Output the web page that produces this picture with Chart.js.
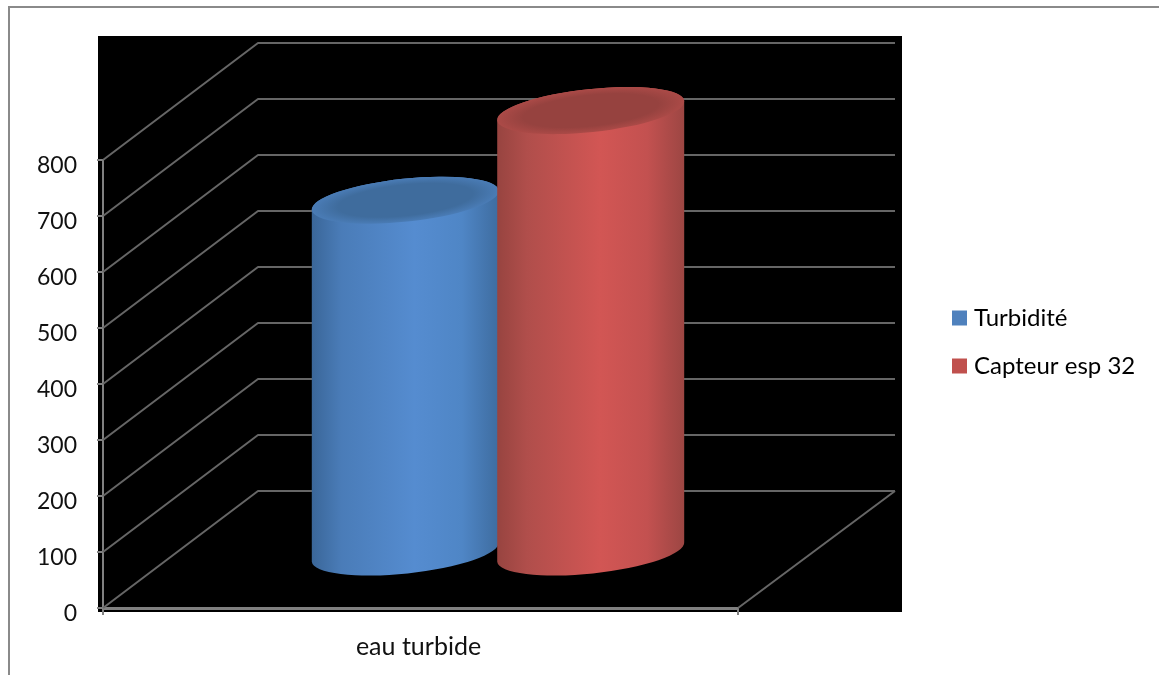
<!DOCTYPE html>
<html lang="fr">
<head>
<meta charset="utf-8">
<title>Turbidité</title>
<script src="https://cdn.jsdelivr.net/npm/chart.js@4"></script>
<style>
  html, body { margin: 0; padding: 0; background: #fff; }
  canvas { display: block; }
</style>
</head>
<body>
<canvas id="chart" width="1159" height="675"></canvas>
<script>
// Measured values per water sample
const categories = ['eau turbide'];
const turbidite = [630];
const capteurEsp32 = [790];
const seriesNames = ['Turbidité', 'Capteur esp 32'];
const yTicksMax = 800;
const yTickStep = 100;

const FONT = 'Lato, sans-serif';
const GRID = '#666666';
const AXIS = '#808080';

// Depth of the fake 3D box, and of the column plane inside it
const WALL = { dx: 155, dy: -117 };
const COLUMN = { dx: 77.5, dy: -55, minor: 21.5, tilt: -6 * Math.PI / 180 };

const palettes = [
  { legend: '#4f81bd', side: ['#3a6698', '#4a7cb8', '#558cd0', '#4f86c6', '#3e6c9f'],
    rim: '#4a7cb6', lid: '#3f6c9d' },
  { legend: '#c0504d', side: ['#974440', '#b04e4b', '#d25654', '#c35150', '#9c4643'],
    rim: '#ab4a47', lid: '#96423f' }
];

// Paper: outer frame and the black plotting panel
const backdrop = {
  id: 'backdrop',
  beforeDraw(chart) {
    const c = chart.ctx;
    c.save();
    c.fillStyle = '#fff';
    c.fillRect(0, 0, chart.width, chart.height);
    c.fillStyle = '#8a8a8a';
    c.fillRect(8, 6, chart.width - 8, 2);
    c.fillRect(8, 6, 2, chart.height - 6);
    c.fillStyle = '#000';
    c.fillRect(98, 36, 804, 576);
    c.restore();
  }
};

// One cylinder, built on the geometry of a bar element
function drawCylinder(c, bar, pal) {
  const { x, y, base, width } = bar.getProps(['x', 'y', 'base', 'width'], true);
  const cx = x + COLUMN.dx;
  const top = y + COLUMN.dy;
  const bottom = base + COLUMN.dy;
  const a = width / 2;
  const b = COLUMN.minor;
  const t = COLUMN.tilt;

  const side = c.createLinearGradient(cx - a, 0, cx + a, 0);
  [0, 0.16, 0.55, 0.8, 1].forEach((s, i) => side.addColorStop(s, pal.side[i]));

  c.save();
  c.beginPath();
  c.ellipse(cx, bottom, a, b, t, 0, Math.PI);
  c.ellipse(cx, top, a, b, t, Math.PI, Math.PI * 2);
  c.closePath();
  c.fillStyle = side;
  c.fill();
  c.restore();

  c.save();
  c.translate(cx, top);
  c.rotate(t);
  c.scale(1, b / a);
  const lid = c.createRadialGradient(0, 0, 0, 0, 0, a);
  lid.addColorStop(0, pal.lid);
  lid.addColorStop(0.72, pal.lid);
  lid.addColorStop(1, pal.rim);
  c.beginPath();
  c.arc(0, 0, a, 0, Math.PI * 2);
  c.fillStyle = lid;
  c.fill();
  c.restore();
}

// Side walls and floor follow the value axis ticks; columns go on top, left to right
const box3d = {
  id: 'box3d',
  beforeDatasetsDraw(chart) {
    const c = chart.ctx;
    const y = chart.scales.y;
    const left = chart.chartArea.left;
    const right = chart.chartArea.right;
    c.save();
    c.strokeStyle = GRID;
    c.lineWidth = 2;
    c.lineJoin = 'round';
    y.ticks.forEach(t => {
      const py = y.getPixelForValue(t.value);
      c.beginPath();
      c.moveTo(left, py);
      c.lineTo(left + WALL.dx, py + WALL.dy);
      c.lineTo(right + WALL.dx + 2, py + WALL.dy);
      c.stroke();
    });
    const floor = y.getPixelForValue(0);
    c.beginPath();
    c.moveTo(right, floor);
    c.lineTo(right + WALL.dx + 2, floor + WALL.dy);
    c.stroke();
    c.restore();

    chart.getSortedVisibleDatasetMetas().forEach(meta => {
      meta.data.forEach(bar => drawCylinder(c, bar, palettes[meta.index]));
    });
  },
  beforeDatasetDraw() {
    return false;
  }
};

// Keeps the legend out in the right margin, beyond the black panel
const legendPlacement = {
  id: 'legendPlacement',
  afterLayout(chart) {
    const l = chart.legend;
    l.left = 933;
    l.right = 1150;
    l.top = 282;
    l.bottom = 402;
  }
};

new Chart(document.getElementById('chart'), {
  type: 'bar',
  data: {
    labels: categories,
    datasets: [
      { label: seriesNames[0], data: turbidite, backgroundColor: palettes[0].legend },
      { label: seriesNames[1], data: capteurEsp32, backgroundColor: palettes[1].legend }
    ]
  },
  plugins: [backdrop, box3d, legendPlacement],
  options: {
    responsive: false,
    animation: false,
    devicePixelRatio: 1,
    layout: { padding: { top: 160, right: 420, bottom: 0, left: 0 } },
    datasets: { bar: { barPercentage: 1.014, categoryPercentage: 0.584 } },
    scales: {
      x: {
        afterFit(s) { s.height = 67; },
        border: { color: AXIS, width: 3 },
        grid: { drawOnChartArea: false, color: AXIS, tickLength: 7, lineWidth: 2 },
        ticks: { color: '#111', padding: 17, labelOffset: -2, font: { family: FONT, size: 25 } }
      },
      y: {
        min: 0,
        max: yTicksMax,
        afterFit(s) { s.width = 103; },
        border: { color: AXIS, width: 2 },
        grid: { drawOnChartArea: false, color: AXIS, tickLength: 6, lineWidth: 2 },
        ticks: {
          stepSize: yTickStep,
          color: '#111',
          padding: 20,
          labelOffset: 6,
          font: { family: FONT, size: 23 }
        }
      }
    },
    plugins: {
      tooltip: { enabled: false },
      title: { display: false },
      legend: {
        position: 'right',
        maxWidth: 1,
        labels: {
          color: '#111',
          font: { family: FONT, size: 24 },
          padding: 24,
          boxWidth: 5,
          boxHeight: 5,
          generateLabels: () => seriesNames.map((text, i) => ({
            text,
            fillStyle: palettes[i].legend,
            strokeStyle: palettes[i].legend,
            lineWidth: 10,
            datasetIndex: i
          }))
        }
      }
    }
  }
});
</script>
</body>
</html>
